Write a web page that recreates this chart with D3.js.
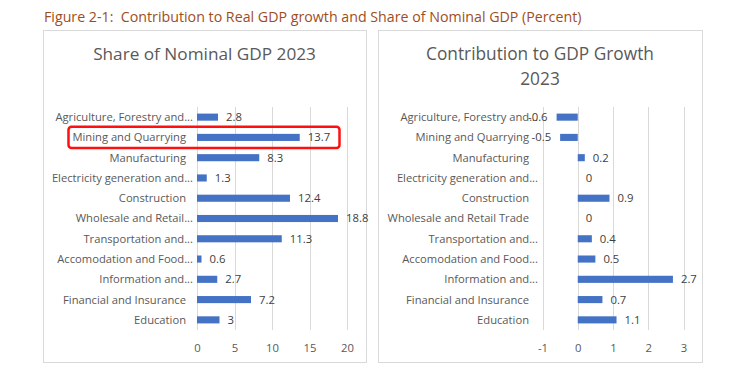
<!DOCTYPE html>
<html>
<head>
<meta charset="utf-8">
<script src="https://cdn.jsdelivr.net/npm/d3@7"></script>
<style>
  html, body { margin: 0; padding: 0; background: #fff; }
  svg { display: block; font-family: "Open Sans", "Noto Sans", sans-serif; }
</style>
</head>
<body>
<svg id="chart" width="733" height="373"></svg>
<script>
// ---------- DATA ----------
const figureTitle = "Figure 2-1:  Contribution to Real GDP growth and Share of Nominal GDP (Percent)";
const shareTitle = ["Share of Nominal GDP 2023"];
const contribTitle = ["Contribution to GDP Growth", "2023"];

const shareCategories = [
  "Agriculture, Forestry and...", "Mining and Quarrying", "Manufacturing",
  "Electricity generation and...", "Construction", "Wholesale and Retail...",
  "Transportation and...", "Accomodation and Food...", "Information and...",
  "Financial and Insurance", "Education"
];
const shareValues = [2.8, 13.7, 8.3, 1.3, 12.4, 18.8, 11.3, 0.6, 2.7, 7.2, 3];
const shareTicks = [0, 5, 10, 15, 20];

const contribCategories = [
  "Agriculture, Forestry and...", "Mining and Quarrying", "Manufacturing",
  "Electricity generation and...", "Construction", "Wholesale and Retail Trade",
  "Transportation and...", "Accomodation and Food...", "Information and...",
  "Financial and Insurance", "Education"
];
const contribValues = [-0.6, -0.5, 0.2, 0, 0.9, 0, 0.4, 0.5, 2.7, 0.7, 1.1];
const contribTicks = [-1, 0, 1, 2, 3];

const highlighted = "Mining and Quarrying";

// ---------- STYLE ----------
const barColor = "#4472C4";
const gridColor = "#D9D9D9";
const textColor = "#595959";
const labelColor = "#404040";

const fmt = d => String(d); // plain hyphen-minus like the source

const svg = d3.select("#chart");

function fitWidth(sel, target) {
  const len = sel.node().getComputedTextLength();
  const fs = parseFloat(sel.attr("font-size"));
  sel.attr("font-size", (fs * target / len).toFixed(2));
}

// Figure title
const ft = svg.append("text")
  .attr("x", 44).attr("y", 22)
  .attr("font-size", 14)
  .attr("fill", "#9E4E1C")
  .attr("xml:space", "preserve")
  .style("white-space", "pre")
  .text(figureTitle);
fitWidth(ft, 538);

function panel(opts) {
  const g = svg.append("g");
  // frame
  g.append("rect")
    .attr("x", opts.box[0] + 0.5).attr("y", opts.box[1] + 0.5)
    .attr("width", opts.box[2] - opts.box[0]).attr("height", opts.box[3] - opts.box[1])
    .attr("fill", "#fff").attr("stroke", gridColor).attr("stroke-width", 1);

  // title
  const cx = (opts.box[0] + opts.box[2]) / 2;
  let titleSize = 18;
  opts.title.forEach((t, i) => {
    const tt = g.append("text")
      .attr("x", cx).attr("y", 60 + i * 25)
      .attr("text-anchor", "middle")
      .attr("font-size", titleSize)
      .attr("fill", textColor)
      .text(t);
    if (i === 0) { fitWidth(tt, opts.titleWidth); titleSize = tt.attr("font-size"); }
  });

  const x = d3.scaleLinear().domain(opts.domain).range(opts.xRange);
  const y = d3.scaleBand().domain(opts.categories).range([107, 330])
    .paddingInner(0.65).paddingOuter(0.325);

  // gridlines
  g.append("g").selectAll("line").data(opts.ticks).join("line")
    .attr("x1", d => Math.round(x(d)) + 0.5).attr("x2", d => Math.round(x(d)) + 0.5)
    .attr("y1", 107).attr("y2", 330)
    .attr("stroke", gridColor).attr("stroke-width", 1);

  // tick labels via axis
  const axis = d3.axisBottom(x).tickValues(opts.ticks).tickSize(0).tickPadding(0)
    .tickFormat(fmt);
  const ax = g.append("g").attr("transform", "translate(0,344)").call(axis);
  ax.select(".domain").remove();
  ax.selectAll("text")
    .attr("font-size", 11.3).attr("font-family", "'Open Sans', 'Noto Sans', sans-serif")
    .attr("fill", textColor).attr("dy", "0.35em").attr("y", 4);

  const data = opts.categories.map((c, i) => ({ c, v: opts.values[i] }));

  // bars
  g.append("g").selectAll("rect").data(data).join("rect")
    .attr("x", d => x(Math.min(0, d.v)))
    .attr("width", d => Math.abs(x(d.v) - x(0)))
    .attr("y", d => y(d.c))
    .attr("height", y.bandwidth())
    .attr("fill", barColor);

  // category labels
  g.append("g").selectAll("text").data(data).join("text")
    .attr("x", d => opts.labelRight + (d.c.endsWith("...") ? opts.ellipsisShift : 0))
    .attr("y", d => y(d.c) + y.bandwidth() / 2)
    .attr("dy", "0.35em")
    .attr("text-anchor", "end")
    .attr("font-size", 11.2)
    .attr("fill", textColor)
    .text(d => d.c);

  // value labels
  g.append("g").selectAll("text").data(data).join("text")
    .attr("x", d => d.v < 0 ? x(d.v) - 9 : x(d.v) + 8)
    .attr("y", d => y(d.c) + y.bandwidth() / 2)
    .attr("dy", "0.35em")
    .attr("text-anchor", d => d.v < 0 ? "end" : "start")
    .attr("font-size", 11.3)
    .attr("fill", labelColor)
    .text(d => fmt(d.v));

  return { x, y, g };
}

const left = panel({
  box: [43, 30, 366, 362],
  title: shareTitle, titleWidth: 223,
  categories: shareCategories, values: shareValues,
  domain: [0, 20], xRange: [197, 347], ticks: shareTicks,
  labelRight: 186, ellipsisShift: 7
});

const right = panel({
  box: [378, 30, 702, 362],
  title: contribTitle, titleWidth: 228,
  categories: contribCategories, values: contribValues,
  domain: [-1, 3], xRange: [542.5, 683.5], ticks: contribTicks,
  labelRight: 529, ellipsisShift: 9
});

// highlight box around the Mining row of the left panel
const hy = left.y(highlighted) + left.y.bandwidth() / 2;
const step = left.y.step();
svg.append("rect")
  .attr("x", 68.5).attr("y", hy - step / 2 - 0.5)
  .attr("width", 271).attr("height", step + 1)
  .attr("rx", 3).attr("ry", 3)
  .attr("fill", "none")
  .attr("stroke", "#FF1010")
  .attr("stroke-width", 2.5);
</script>
</body>
</html>
